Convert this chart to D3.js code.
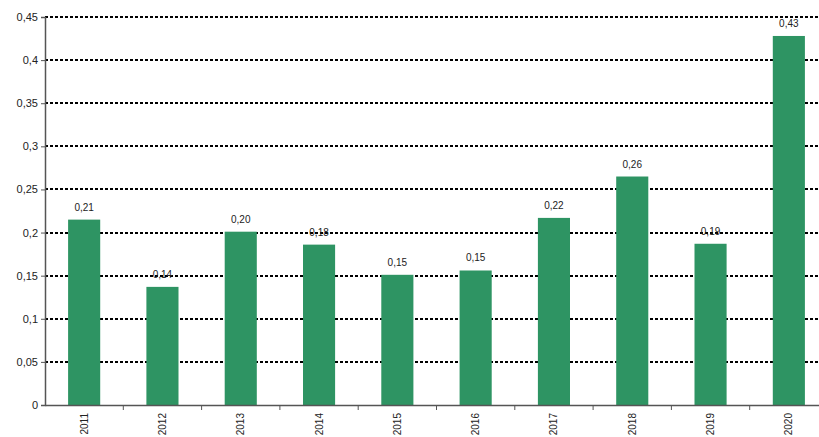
<!DOCTYPE html>
<html>
<head>
<meta charset="utf-8">
<script src="https://cdn.jsdelivr.net/npm/d3@7"></script>
<style>
  body { margin: 0; background: #fff; }
  svg { display: block; font-family: Arial, "Liberation Sans", sans-serif; }
</style>
</head>
<body>
<div id="chart"></div>
<script>
const years = ['2011', '2012', '2013', '2014', '2015', '2016', '2017', '2018', '2019', '2020'];
const values = [0.215, 0.137, 0.201, 0.186, 0.151, 0.156, 0.217, 0.265, 0.187, 0.428];
const valueLabels = ['0,21', '0,14', '0,20', '0,18', '0,15', '0,15', '0,22', '0,26', '0,19', '0,43'];
const yTicks = [0, 0.05, 0.1, 0.15, 0.2, 0.25, 0.3, 0.35, 0.4, 0.45];

const width = 819, height = 437;
const plotLeft = 45, plotRight = 828, plotTop = 17, plotBottom = 405;

const svg = d3.select('#chart').append('svg')
  .attr('width', width).attr('height', height);

const x = d3.scaleBand().domain(years).range([plotLeft, plotRight]);
const y = d3.scaleLinear().domain([0, 0.45]).range([plotBottom, plotTop]);
const fmt = d => String(d).replace('.', ',');

// grid lines
svg.append('g').selectAll('line')
  .data(yTicks.slice(1))
  .join('line')
  .attr('x1', plotLeft).attr('x2', width)
  .attr('y1', d => Math.round(y(d))).attr('y2', d => Math.round(y(d)))
  .attr('stroke', '#000').attr('stroke-width', 2)
  .attr('stroke-dasharray', '3,2');

// bars
const barW = x.bandwidth() * 0.41;
svg.append('g').selectAll('rect')
  .data(values)
  .join('rect')
  .attr('x', (d, i) => x(years[i]) + (x.bandwidth() - barW) / 2)
  .attr('y', d => y(d))
  .attr('width', barW)
  .attr('height', d => plotBottom - y(d))
  .attr('fill', '#2e9463');

// value labels
svg.append('g').selectAll('text')
  .data(values)
  .join('text')
  .attr('x', (d, i) => x(years[i]) + x.bandwidth() / 2)
  .attr('y', d => y(d) - 9)
  .attr('text-anchor', 'middle')
  .attr('font-size', 10)
  .attr('fill', '#222')
  .text((d, i) => valueLabels[i]);

// y axis
const yAxis = svg.append('g')
  .attr('transform', `translate(${plotLeft},0)`)
  .call(d3.axisLeft(y).tickValues(yTicks).tickFormat(fmt).tickSize(4).tickPadding(3));
yAxis.select('.domain').attr('stroke', '#555').attr('stroke-width', 1.5);
yAxis.selectAll('.tick line').attr('stroke', '#555');
yAxis.selectAll('.tick text').attr('font-size', 11).attr('fill', '#222')
  .attr('font-family', 'Arial, "Liberation Sans", sans-serif');

// x axis
const xAxis = svg.append('g')
  .attr('transform', `translate(0,${plotBottom})`)
  .call(d3.axisBottom(x).tickSize(0).tickPadding(0));
xAxis.select('.domain').attr('stroke', '#555').attr('stroke-width', 1.5);
xAxis.selectAll('.tick text')
  .attr('font-size', 10).attr('fill', '#222')
  .attr('font-family', 'Arial, "Liberation Sans", sans-serif')
  .attr('transform', 'rotate(-90)')
  .attr('text-anchor', 'end')
  .attr('dy', '0.35em')
  .attr('x', -8).attr('y', 0);

// category separator ticks
svg.append('g').selectAll('line')
  .data(years.slice(1))
  .join('line')
  .attr('x1', d => x(d)).attr('x2', d => x(d))
  .attr('y1', plotBottom).attr('y2', plotBottom + 5)
  .attr('stroke', '#555').attr('stroke-width', 1);
</script>
</body>
</html>
